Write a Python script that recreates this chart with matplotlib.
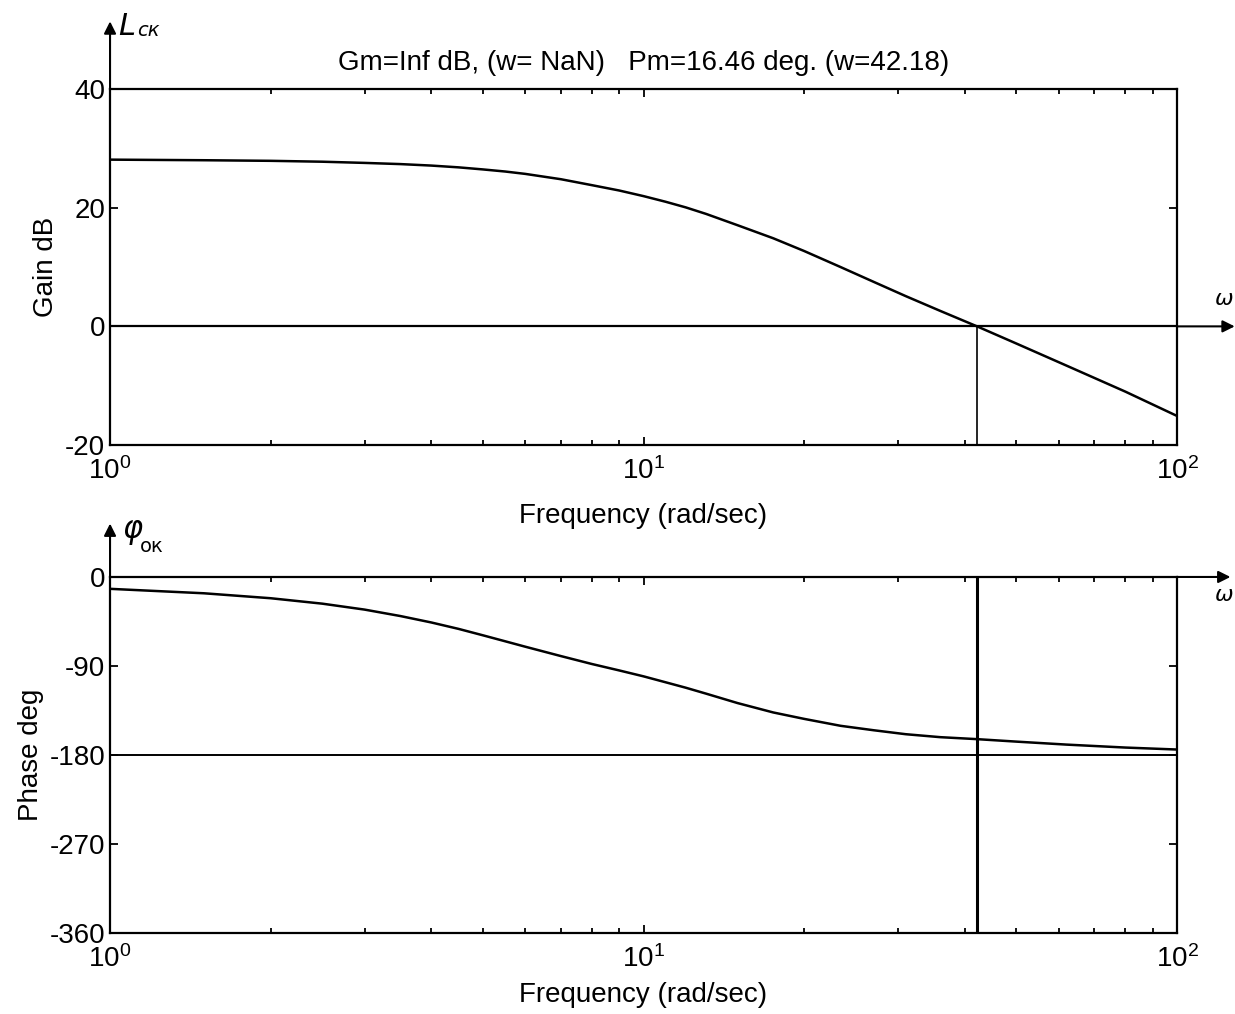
import matplotlib
matplotlib.use("Agg")
import matplotlib.pyplot as plt
from matplotlib.ticker import LogLocator, NullFormatter

plt.rcParams["font.family"] = ["Liberation Sans", "DejaVu Sans"]
plt.rcParams["axes.unicode_minus"] = False

# values
freq = [1.0, 1.5, 2.0, 2.5, 3.0, 3.5, 4.0, 4.5, 5.0, 5.5, 6.0, 7.0, 8.0, 9.0,
        10.0, 11.0, 12.0, 13.1, 15.0, 17.5, 20.0, 23.4, 27.0, 31.0, 36.0,
        42.18, 50.0, 62.0, 80.0, 100.0]
gain_db = [28.1, 28.0, 27.9, 27.75, 27.55, 27.35, 27.1, 26.8, 26.45, 26.1,
           25.7, 24.8, 23.8, 22.9, 21.95, 21.0, 20.05, 18.95, 17.05, 14.85,
           12.7, 10.0, 7.5, 5.1, 2.6, 0.0, -2.9, -6.6, -11.0, -15.1]
phase_deg = [-12, -16.5, -21.5, -27, -33, -39.5, -46, -52.5, -59, -65, -70.5,
             -80, -88, -94.5, -100.5, -106.5, -112, -118, -127.5, -137, -143.5,
             -150.5, -155, -159, -162, -164, -166.5, -169.5, -172.5, -174.5]

w_cross = 42.18
title = "Gm=Inf dB, (w= NaN)   Pm=16.46 deg. (w=42.18)"
gain_ticks = [-20, 0, 20, 40]
phase_ticks = [-360, -270, -180, -90, 0]

FS = 20
LW = 1.8


def style_axes(ax, labelpad):
    ax.set_xscale("log")
    ax.set_xlim(1, 100)
    for s in ax.spines.values():
        s.set_linewidth(1.6)
    ax.xaxis.set_major_locator(LogLocator(base=10))
    ax.xaxis.set_minor_locator(LogLocator(base=10, subs=range(2, 10)))
    ax.xaxis.set_minor_formatter(NullFormatter())
    ax.tick_params(which="both", direction="in", top=True, right=True,
                   width=1.3, labelsize=FS)
    ax.tick_params(which="major", length=6)
    ax.tick_params(which="minor", length=3.5)
    ax.tick_params(axis="x", pad=9)
    ax.set_xlabel("Frequency (rad/sec)", fontsize=FS, labelpad=labelpad)


fig = plt.figure(figsize=(12.35, 10.14), dpi=100)
ax1 = fig.add_axes([0.0891, 0.5611, 0.8640, 0.3511])
ax2 = fig.add_axes([0.0891, 0.0799, 0.8640, 0.3511])

# gain
style_axes(ax1, 13)
ax1.plot(freq, gain_db, color="k", lw=LW)
ax1.axhline(0, color="k", lw=1.6)
ax1.plot([w_cross, w_cross], [-20, 0], color="k", lw=1.2)
ax1.set_ylim(-20, 40)
ax1.set_yticks(gain_ticks)
ax1.set_ylabel("Gain dB", fontsize=FS)
ax1.set_title(title, fontsize=FS, pad=14)

# phase
style_axes(ax2, 6)
ax2.plot(freq, phase_deg, color="k", lw=LW)
ax2.axhline(-180, color="k", lw=1.4)
ax2.plot([w_cross, w_cross], [-360, 0], color="k", lw=2.2)
ax2.set_ylim(-360, 0)
ax2.set_yticks(phase_ticks)
ax2.set_ylabel("Phase deg", fontsize=FS)

# hand-drawn axis arrows and labels
arrow = dict(arrowstyle="-|>", lw=1.5, color="k", mutation_scale=18,
             shrinkA=0, shrinkB=0)
ax1.annotate("", xy=(0, 1.19), xytext=(0, 1.0), xycoords="axes fraction",
             arrowprops=arrow)
ax1.annotate("", xy=(1.054, 1 / 3), xytext=(1.0, 1 / 3),
             xycoords="axes fraction", arrowprops=arrow)
ax2.annotate("", xy=(0, 1.15), xytext=(0, 1.0), xycoords="axes fraction",
             arrowprops=arrow)
ax2.annotate("", xy=(1.05, 1.0), xytext=(1.0, 1.0),
             xycoords="axes fraction", arrowprops=arrow)

ax1.text(0.008, 1.175, "L", transform=ax1.transAxes, fontsize=22,
         style="italic", family=["DejaVu Sans"], va="center", ha="left")
ax1.text(0.025, 1.165, "ск", transform=ax1.transAxes, fontsize=14,
         style="italic", family=["DejaVu Sans"], va="center", ha="left")
ax2.text(0.012, 1.13, "φ", transform=ax2.transAxes, fontsize=22,
         style="italic", family=["DejaVu Sans"], va="center", ha="left")
ax2.text(0.028, 1.085, "ок", transform=ax2.transAxes, fontsize=14,
         family=["DejaVu Sans"], va="center", ha="left")
ax1.text(1.0525, 0.41, "ω", transform=ax1.transAxes, fontsize=16,
         style="italic", family=["DejaVu Sans"], va="center", ha="right")
ax2.text(1.0525, 0.95, "ω", transform=ax2.transAxes, fontsize=16,
         style="italic", family=["DejaVu Sans"], va="center", ha="right")

fig.savefig("out.png", dpi=100)
plt.close(fig)
